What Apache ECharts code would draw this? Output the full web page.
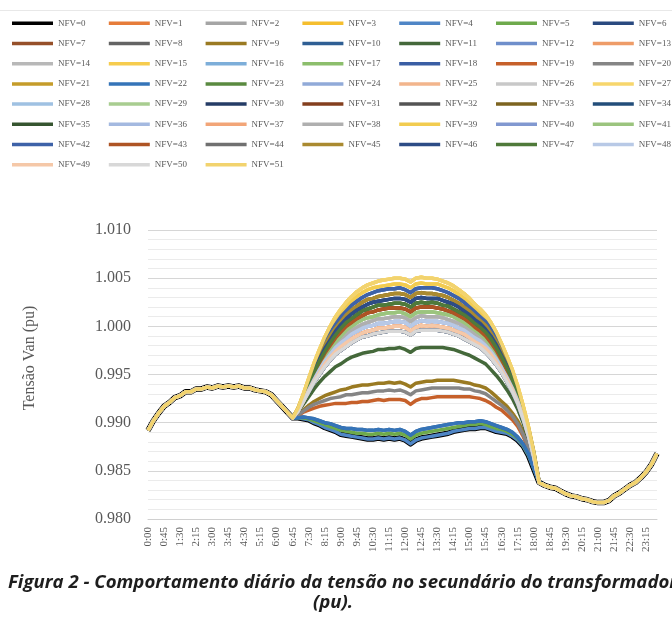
<!DOCTYPE html>
<html>
<head>
<meta charset="utf-8">
<script src="https://cdn.jsdelivr.net/npm/echarts@6/dist/echarts.min.js"></script>
<style>
  html, body { margin: 0; padding: 0; background: #ffffff; }
  #chart { width: 672px; height: 635px; }
</style>
</head>
<body>
<div id="chart"></div>
<script>
// Time of day, one sample every 15 minutes
const times = ["0:00","0:15","0:30","0:45","1:00","1:15","1:30","1:45","2:00","2:15","2:30","2:45",
  "3:00","3:15","3:30","3:45","4:00","4:15","4:30","4:45","5:00","5:15","5:30","5:45",
  "6:00","6:15","6:30","6:45","7:00","7:15","7:30","7:45","8:00","8:15","8:30","8:45",
  "9:00","9:15","9:30","9:45","10:00","10:15","10:30","10:45","11:00","11:15","11:30","11:45",
  "12:00","12:15","12:30","12:45","13:00","13:15","13:30","13:45","14:00","14:15","14:30","14:45",
  "15:00","15:15","15:30","15:45","16:00","16:15","16:30","16:45","17:00","17:15","17:30","17:45",
  "18:00","18:15","18:30","18:45","19:00","19:15","19:30","19:45","20:00","20:15","20:30","20:45",
  "21:00","21:15","21:30","21:45","22:00","22:15","22:30","22:45","23:00","23:15","23:30","23:45"];

// Night / early morning (0:00 - 6:45): identical for every NFV case
const morning = [0.9892,0.9902,0.9910,0.9917,0.9921,0.9926,0.9928,0.9932,0.9932,0.9935,0.9935,0.9937,
  0.9936,0.9938,0.9937,0.9938,0.9937,0.9938,0.9936,0.9936,0.9934,0.9933,0.9932,0.9929,
  0.9923,0.9917,0.9911,0.9905];

// Evening / night (18:15 - 23:45): identical for every NFV case
const evening = [0.9838,0.9835,0.9833,0.9832,0.9829,0.9826,0.9824,0.9823,0.9821,0.9820,0.9818,0.9817,
  0.9817,0.9819,0.9824,0.9827,0.9831,0.9835,0.9838,0.9843,0.9849,0.9857,0.9868];

// Daytime profiles (7:00 - 18:00), from the lowest to the highest voltage
const dayLow1 = [0.9905,0.9904,0.9903,0.9900,0.9898,0.9895,0.9893,0.9891,0.9888,0.9887,0.9886,0.9885,0.9884,0.9883,0.9883,0.9884,0.9883,0.9884,0.9883,0.9884,0.9882,0.9878,0.9882,0.9884,0.9885,0.9886,0.9887,0.9888,0.9889,0.9891,0.9892,0.9893,0.9894,0.9894,0.9895,0.9895,0.9893,0.9891,0.9890,0.9889,0.9886,0.9882,0.9876,0.9866,0.9852];
const dayLow2 = [0.9905,0.9905,0.9904,0.9902,0.9900,0.9898,0.9896,0.9894,0.9892,0.9891,0.9890,0.9889,0.9889,0.9888,0.9888,0.9889,0.9888,0.9889,0.9888,0.9889,0.9887,0.9883,0.9887,0.9889,0.9890,0.9891,0.9892,0.9893,0.9894,0.9895,0.9896,0.9897,0.9898,0.9898,0.9899,0.9898,0.9896,0.9894,0.9893,0.9891,0.9888,0.9884,0.9877,0.9867,0.9853];
const dayLow3 = [0.9905,0.9906,0.9905,0.9904,0.9902,0.9900,0.9899,0.9897,0.9895,0.9894,0.9894,0.9893,0.9893,0.9892,0.9892,0.9893,0.9892,0.9893,0.9892,0.9893,0.9891,0.9887,0.9891,0.9893,0.9894,0.9895,0.9896,0.9897,0.9898,0.9899,0.9900,0.9900,0.9901,0.9901,0.9902,0.9901,0.9899,0.9897,0.9895,0.9893,0.9890,0.9885,0.9878,0.9868,0.9853];
const dayMid1 = [0.9907,0.9911,0.9913,0.9915,0.9917,0.9918,0.9919,0.9920,0.9920,0.9920,0.9921,0.9921,0.9922,0.9922,0.9923,0.9924,0.9923,0.9924,0.9924,0.9924,0.9923,0.9919,0.9923,0.9925,0.9925,0.9926,0.9927,0.9927,0.9927,0.9927,0.9927,0.9927,0.9927,0.9926,0.9925,0.9923,0.9920,0.9916,0.9913,0.9908,0.9903,0.9896,0.9886,0.9873,0.9857];
const dayMid2 = [0.9908,0.9912,0.9916,0.9919,0.9921,0.9923,0.9925,0.9926,0.9927,0.9929,0.9929,0.9930,0.9931,0.9931,0.9932,0.9933,0.9933,0.9934,0.9933,0.9934,0.9932,0.9929,0.9933,0.9934,0.9935,0.9936,0.9936,0.9936,0.9936,0.9936,0.9936,0.9935,0.9935,0.9933,0.9932,0.9930,0.9926,0.9922,0.9918,0.9913,0.9907,0.9899,0.9888,0.9875,0.9858];
const dayMid3 = [0.9908,0.9913,0.9918,0.9922,0.9925,0.9928,0.9930,0.9932,0.9934,0.9935,0.9937,0.9938,0.9939,0.9939,0.9940,0.9941,0.9941,0.9942,0.9941,0.9942,0.9940,0.9937,0.9941,0.9942,0.9943,0.9943,0.9944,0.9944,0.9944,0.9944,0.9943,0.9942,0.9941,0.9939,0.9938,0.9936,0.9932,0.9927,0.9922,0.9917,0.9910,0.9902,0.9891,0.9877,0.9859];
const dayMid4 = [0.9911,0.9919,0.9927,0.9935,0.9942,0.9948,0.9953,0.9958,0.9961,0.9965,0.9968,0.9970,0.9972,0.9973,0.9974,0.9976,0.9976,0.9977,0.9977,0.9978,0.9976,0.9973,0.9977,0.9978,0.9978,0.9978,0.9978,0.9978,0.9977,0.9976,0.9974,0.9972,0.9970,0.9967,0.9964,0.9961,0.9955,0.9949,0.9942,0.9934,0.9925,0.9914,0.9900,0.9883,0.9862];
const dayHigh01 = [0.9912,0.9922,0.9932,0.9942,0.9950,0.9958,0.9965,0.9971,0.9975,0.9979,0.9983,0.9986,0.9989,0.9990,0.9992,0.9993,0.9994,0.9995,0.9995,0.9995,0.9994,0.9991,0.9995,0.9996,0.9996,0.9996,0.9996,0.9995,0.9994,0.9992,0.9990,0.9987,0.9984,0.9981,0.9978,0.9973,0.9967,0.9960,0.9952,0.9942,0.9932,0.9920,0.9904,0.9886,0.9864];
const dayHigh02 = [0.9912,0.9922,0.9933,0.9943,0.9952,0.9961,0.9968,0.9974,0.9979,0.9983,0.9987,0.9990,0.9993,0.9995,0.9996,0.9998,0.9998,0.9999,1.0000,1.0000,0.9999,0.9995,0.9999,1.0001,1.0000,1.0001,1.0000,0.9999,0.9998,0.9996,0.9994,0.9992,0.9988,0.9984,0.9981,0.9977,0.9971,0.9963,0.9954,0.9945,0.9934,0.9921,0.9905,0.9887,0.9865];
const dayHigh03 = [0.9912,0.9923,0.9934,0.9945,0.9955,0.9964,0.9971,0.9978,0.9983,0.9987,0.9992,0.9995,0.9998,1.0000,1.0001,1.0003,1.0003,1.0004,1.0005,1.0005,1.0004,1.0000,1.0004,1.0006,1.0005,1.0005,1.0005,1.0004,1.0003,1.0001,0.9998,0.9996,0.9992,0.9988,0.9985,0.9980,0.9974,0.9966,0.9957,0.9947,0.9936,0.9923,0.9907,0.9888,0.9865];
const dayHigh04 = [0.9913,0.9924,0.9936,0.9947,0.9957,0.9966,0.9974,0.9981,0.9987,0.9992,0.9996,0.9999,1.0002,1.0004,1.0006,1.0008,1.0008,1.0009,1.0010,1.0010,1.0009,1.0005,1.0009,1.0011,1.0010,1.0010,1.0010,1.0009,1.0007,1.0005,1.0003,1.0000,0.9996,0.9992,0.9988,0.9984,0.9977,0.9969,0.9960,0.9950,0.9938,0.9925,0.9908,0.9889,0.9866];
const dayHigh05 = [0.9913,0.9925,0.9937,0.9949,0.9959,0.9969,0.9977,0.9984,0.9990,0.9996,1.0000,1.0004,1.0007,1.0009,1.0010,1.0012,1.0013,1.0014,1.0014,1.0015,1.0013,1.0010,1.0014,1.0015,1.0015,1.0015,1.0014,1.0013,1.0012,1.0010,1.0007,1.0004,1.0000,0.9996,0.9992,0.9987,0.9980,0.9972,0.9962,0.9952,0.9940,0.9926,0.9909,0.9890,0.9866];
const dayHigh06 = [0.9913,0.9925,0.9938,0.9951,0.9962,0.9972,0.9980,0.9988,0.9994,1.0000,1.0004,1.0008,1.0011,1.0014,1.0015,1.0017,1.0018,1.0019,1.0019,1.0019,1.0018,1.0015,1.0019,1.0020,1.0020,1.0020,1.0019,1.0018,1.0016,1.0014,1.0011,1.0008,1.0004,0.9999,0.9995,0.9990,0.9983,0.9975,0.9965,0.9954,0.9942,0.9928,0.9910,0.9890,0.9867];
const dayHigh07 = [0.9913,0.9926,0.9939,0.9952,0.9964,0.9974,0.9983,0.9991,0.9998,1.0004,1.0008,1.0012,1.0016,1.0018,1.0020,1.0022,1.0022,1.0023,1.0024,1.0024,1.0023,1.0020,1.0024,1.0025,1.0024,1.0025,1.0024,1.0022,1.0021,1.0018,1.0015,1.0012,1.0008,1.0003,0.9999,0.9994,0.9987,0.9978,0.9968,0.9957,0.9944,0.9929,0.9911,0.9891,0.9867];
const dayHigh08 = [0.9914,0.9927,0.9941,0.9954,0.9966,0.9977,0.9986,0.9995,1.0002,1.0008,1.0013,1.0017,1.0020,1.0023,1.0025,1.0026,1.0027,1.0028,1.0029,1.0029,1.0028,1.0025,1.0029,1.0030,1.0029,1.0029,1.0029,1.0027,1.0025,1.0023,1.0020,1.0016,1.0012,1.0007,1.0003,0.9997,0.9990,0.9981,0.9970,0.9959,0.9946,0.9931,0.9913,0.9892,0.9868];
const dayHigh09 = [0.9914,0.9928,0.9942,0.9956,0.9968,0.9980,0.9990,0.9998,1.0005,1.0012,1.0017,1.0021,1.0025,1.0028,1.0029,1.0031,1.0032,1.0033,1.0034,1.0034,1.0033,1.0030,1.0034,1.0035,1.0034,1.0034,1.0033,1.0032,1.0030,1.0027,1.0024,1.0020,1.0016,1.0011,1.0006,1.0001,0.9993,0.9984,0.9973,0.9961,0.9948,0.9933,0.9914,0.9893,0.9868];
const dayHigh10 = [0.9914,0.9928,0.9943,0.9958,0.9971,0.9983,0.9993,1.0002,1.0010,1.0016,1.0022,1.0026,1.0030,1.0033,1.0035,1.0037,1.0038,1.0039,1.0039,1.0040,1.0038,1.0035,1.0039,1.0040,1.0040,1.0040,1.0039,1.0037,1.0035,1.0032,1.0029,1.0025,1.0020,1.0015,1.0010,1.0005,0.9997,0.9988,0.9976,0.9964,0.9951,0.9934,0.9915,0.9894,0.9869];
const dayHigh11 = [0.9915,0.9929,0.9945,0.9960,0.9973,0.9986,0.9996,1.0006,1.0014,1.0020,1.0026,1.0031,1.0035,1.0038,1.0040,1.0041,1.0042,1.0043,1.0044,1.0044,1.0043,1.0040,1.0044,1.0045,1.0044,1.0044,1.0044,1.0042,1.0040,1.0037,1.0033,1.0029,1.0024,1.0019,1.0014,1.0008,1.0000,0.9991,0.9979,0.9966,0.9953,0.9936,0.9917,0.9895,0.9869];
const dayHigh12 = [0.9915,0.9930,0.9946,0.9962,0.9976,0.9989,1.0000,1.0010,1.0018,1.0025,1.0031,1.0036,1.0040,1.0043,1.0045,1.0047,1.0048,1.0049,1.0050,1.0050,1.0049,1.0046,1.0050,1.0051,1.0050,1.0050,1.0049,1.0047,1.0045,1.0042,1.0038,1.0034,1.0029,1.0023,1.0018,1.0012,1.0004,0.9994,0.9982,0.9969,0.9955,0.9938,0.9918,0.9896,0.9870];

// Which daytime profile each case NFV=0 ... NFV=51 follows
const nfvProfile = ["low1","high02","high04","high12","low1","low2","high08","high06","high01","mid3",
  "low3","mid4","high03","high02","high04","high11","high10","high05","high10","mid1",
  "mid2","high09","low3","high07","high03","high02","high04","high12","high01","high05",
  "high08","high06","high01","high09","high01","high07","high03","high02","high04","high11",
  "high01","high05","high10","high06","high01","high09","high08","high07","high03","high02",
  "high01","high12"];

// Series colours, NFV=0 ... NFV=51
const nfvColors = ["#000000","#E67C3A","#A5A5A5","#F5BE2E","#4F86C6","#6EAA4C","#2A4A80","#96502A","#646464","#9A7A22",
  "#2F5F94","#44683A","#6F8FCB","#EE9C68","#B8B8B8","#F6CC4E","#7DAED9","#8CBE6C","#3A5EA4","#C6602A",
  "#858585","#C59C2A","#3574B8","#5A8A40","#91AAD8","#F2B58C","#C8C8C8","#F7D66C","#9FC1E2","#A8CD90",
  "#253C66","#843F1E","#545454","#7D6420","#234E7A","#365530","#A4B9E0","#F2A578","#AFAFAF","#F2CC50",
  "#8198D0","#9BC47E","#3E62A8","#AE5424","#707070","#AA8A30","#2D4C86","#4F7A3A","#B8C9E6","#F5C8A8",
  "#D8D8D8","#F2D36E"];

const profiles = {
  low1: dayLow1, low2: dayLow2, low3: dayLow3,
  mid1: dayMid1, mid2: dayMid2, mid3: dayMid3, mid4: dayMid4,
  high01: dayHigh01, high02: dayHigh02, high03: dayHigh03, high04: dayHigh04,
  high05: dayHigh05, high06: dayHigh06, high07: dayHigh07, high08: dayHigh08,
  high09: dayHigh09, high10: dayHigh10, high11: dayHigh11, high12: dayHigh12
};

const names = nfvColors.map((c, k) => 'NFV=' + k);

const series = names.map((name, k) => ({
  name: name,
  type: 'line',
  symbol: 'none',
  silent: true,
  animation: false,
  color: nfvColors[k],
  lineStyle: { width: k === 0 ? 5.5 : 3.5, color: nfvColors[k], join: 'round' },
  emphasis: { disabled: true },
  data: morning.concat(profiles[nfvProfile[k]], evening)
}));

// Seven legend columns, read row by row: NFV=0..6 on the first row, and so on
const legendCols = [0, 1, 2, 3, 4, 5, 6].map(c => ({
  orient: 'vertical',
  left: 12 + c * 96.8,
  top: 16.3,
  padding: 0,
  icon: 'rect',
  itemWidth: 41,
  itemHeight: 3.5,
  itemGap: 6.2,
  selectedMode: false,
  textStyle: { fontFamily: 'Liberation Serif', fontSize: 9, lineHeight: 14, color: '#595959' },
  data: names.filter((n, k) => k % 7 === c)
}));

const chart = echarts.init(document.getElementById('chart'), null, { renderer: 'canvas' });
chart.setOption({
  backgroundColor: '#ffffff',
  animation: false,
  legend: legendCols,
  grid: { left: 148, right: 15, top: 230, bottom: 116, containLabel: false },
  xAxis: {
    type: 'category',
    data: times,
    boundaryGap: false,
    axisLine: { show: true, lineStyle: { color: '#D0D0D0', width: 1 } },
    axisTick: { show: false },
    axisLabel: {
      interval: 2,
      rotate: 90,
      margin: 8,
      fontFamily: 'Liberation Serif',
      fontSize: 11,
      color: '#595959'
    },
    splitLine: { show: false }
  },
  yAxis: {
    type: 'value',
    min: 0.98,
    max: 1.01,
    interval: 0.005,
    axisLine: { show: false },
    axisTick: { show: false },
    axisLabel: {
      margin: 17,
      fontFamily: 'Liberation Serif',
      fontSize: 16,
      color: '#595959',
      formatter: v => v.toFixed(3)
    },
    splitLine: { show: true, lineStyle: { color: '#D6D6D6', width: 1 } },
    minorTick: { show: false, splitNumber: 5 },
    minorSplitLine: { show: true, lineStyle: { color: '#EBEBEB', width: 1 } }
  },
  graphic: [
    {
      type: 'line',
      shape: { x1: 0, y1: 10.5, x2: 672, y2: 10.5 },
      style: { stroke: '#E8E8E8', lineWidth: 1 },
      silent: true
    },
    {
      type: 'text',
      x: 30,
      y: 358,
      rotation: Math.PI / 2,
      style: {
        text: 'Tensão Van (pu)',
        font: '16px "Liberation Serif"',
        fill: '#595959',
        textAlign: 'center',
        textVerticalAlign: 'middle',
        align: 'center',
        verticalAlign: 'middle'
      },
      silent: true
    },
    {
      type: 'text',
      x: 8,
      y: 583,
      style: {
        text: 'Figura 2 - Comportamento diário da tensão no secundário do transformador',
        font: 'italic bold 18.6px "Open Sans"',
        fill: '#1E1E1E',
        textAlign: 'left',
        textVerticalAlign: 'middle',
        align: 'left',
        verticalAlign: 'middle'
      },
      silent: true
    },
    {
      type: 'text',
      x: 333,
      y: 603,
      style: {
        text: '(pu).',
        font: 'italic bold 18.6px "Open Sans"',
        fill: '#1E1E1E',
        textAlign: 'center',
        textVerticalAlign: 'middle',
        align: 'center',
        verticalAlign: 'middle'
      },
      silent: true
    }
  ],
  series: series
});
</script>
</body>
</html>
